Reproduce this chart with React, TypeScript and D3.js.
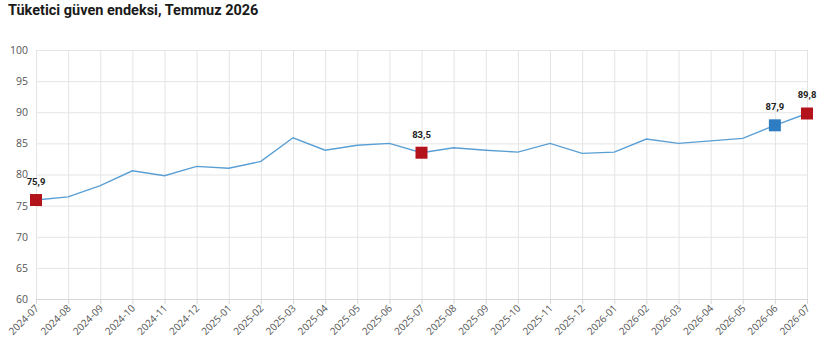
import * as d3 from 'd3';
import { useEffect, useRef } from 'react';

const months = [
  '2024-07', '2024-08', '2024-09', '2024-10', '2024-11', '2024-12',
  '2025-01', '2025-02', '2025-03', '2025-04', '2025-05', '2025-06',
  '2025-07', '2025-08', '2025-09', '2025-10', '2025-11', '2025-12',
  '2026-01', '2026-02', '2026-03', '2026-04', '2026-05', '2026-06',
  '2026-07',
];

const values = [
  75.9, 76.4, 78.2, 80.6, 79.8, 81.3, 81.0, 82.1, 85.9, 83.9, 84.7, 85.0,
  83.5, 84.3, 83.9, 83.6, 85.0, 83.4, 83.6, 85.7, 85.0, 85.4, 85.8, 87.9,
  89.8,
];

// highlighted points: month -> marker colour
const highlightMonths = ['2024-07', '2025-07', '2026-06', '2026-07'];
const highlightColors = ['#B3141C', '#B3141C', '#2E7DC2', '#B3141C'];

const yTicks = [60, 65, 70, 75, 80, 85, 90, 95, 100];

const W = 820;
const H = 348;

export default function App() {
  const svgRef = useRef<SVGSVGElement>(null);

  useEffect(() => {
    if (!svgRef.current) return;
    const svg = d3.select(svgRef.current);
    svg.selectAll('*').remove();

    const margin = { top: 50, right: 13, bottom: 49, left: 36 };
    const width = W - margin.left - margin.right;
    const height = H - margin.top - margin.bottom;

    const x = d3.scalePoint<string>().domain(months).range([0, width]);
    const y = d3.scaleLinear().domain([60, 100]).range([height, 0]);

    svg
      .append('text')
      .attr('x', 8)
      .attr('y', 15)
      .attr('font-family', 'Roboto, sans-serif')
      .attr('font-weight', 700)
      .attr('font-size', 14.5)
      .attr('fill', '#1a1a1a')
      .text('Tüketici güven endeksi, Temmuz 2026');

    const g = svg
      .append('g')
      .attr('transform', `translate(${margin.left},${margin.top})`);

    // horizontal grid + y labels
    g.append('g')
      .call(
        d3
          .axisLeft(y)
          .tickValues(yTicks)
          .tickSize(-width)
          .tickPadding(8)
          .tickFormat((d) => `${d}`),
      )
      .call((a) => a.select('.domain').remove())
      .call((a) => a.selectAll('.tick line').attr('stroke', '#e4e4e4'))
      .call((a) =>
        a
          .selectAll('.tick text')
          .attr('fill', '#555')
          .attr('font-size', 10.5)
          .attr('font-family', '"Open Sans", sans-serif'),
      );

    // vertical grid + x labels
    const xAxis = g
      .append('g')
      .attr('transform', `translate(0,${height})`)
      .call(d3.axisBottom(x).tickSizeInner(-height).tickSizeOuter(0).tickPadding(0));
    xAxis.select('.domain').attr('stroke', '#d8d8d8');
    xAxis.selectAll('.tick line').attr('stroke', '#e4e4e4');
    xAxis
      .selectAll('.tick')
      .append('line')
      .attr('y1', 0)
      .attr('y2', 5)
      .attr('stroke', '#d8d8d8');
    xAxis
      .selectAll('.tick text')
      .attr('fill', '#555')
      .attr('font-size', 10)
      .attr('font-family', '"Open Sans", sans-serif')
      .attr('text-anchor', 'end')
      .attr('dy', null)
      .attr('transform', 'translate(3,10) rotate(-45)');

    const line = d3
      .line<number>()
      .x((_, i) => x(months[i]) ?? 0)
      .y((d) => y(d));

    g.append('path')
      .datum(values)
      .attr('fill', 'none')
      .attr('stroke', '#5a9fd4')
      .attr('stroke-width', 1.4)
      .attr('d', line);

    const size = 12;
    highlightMonths.forEach((m, k) => {
      const i = months.indexOf(m);
      const cx = x(m) ?? 0;
      const cy = y(values[i]);
      g.append('rect')
        .attr('x', cx - size / 2)
        .attr('y', cy - size / 2)
        .attr('width', size)
        .attr('height', size)
        .attr('fill', highlightColors[k]);
      g.append('text')
        .attr('x', cx)
        .attr('y', cy - 15)
        .attr('text-anchor', 'middle')
        .attr('font-family', 'Roboto, sans-serif')
        .attr('font-weight', 700)
        .attr('font-size', 9.5)
        .attr('fill', '#222')
        .text(values[i].toFixed(1).replace('.', ','));
    });
  }, []);

  return (
    <svg
      ref={svgRef}
      width={W}
      height={H}
      style={{ position: 'absolute', left: 0, top: 0, background: '#fff' }}
    />
  );
}
